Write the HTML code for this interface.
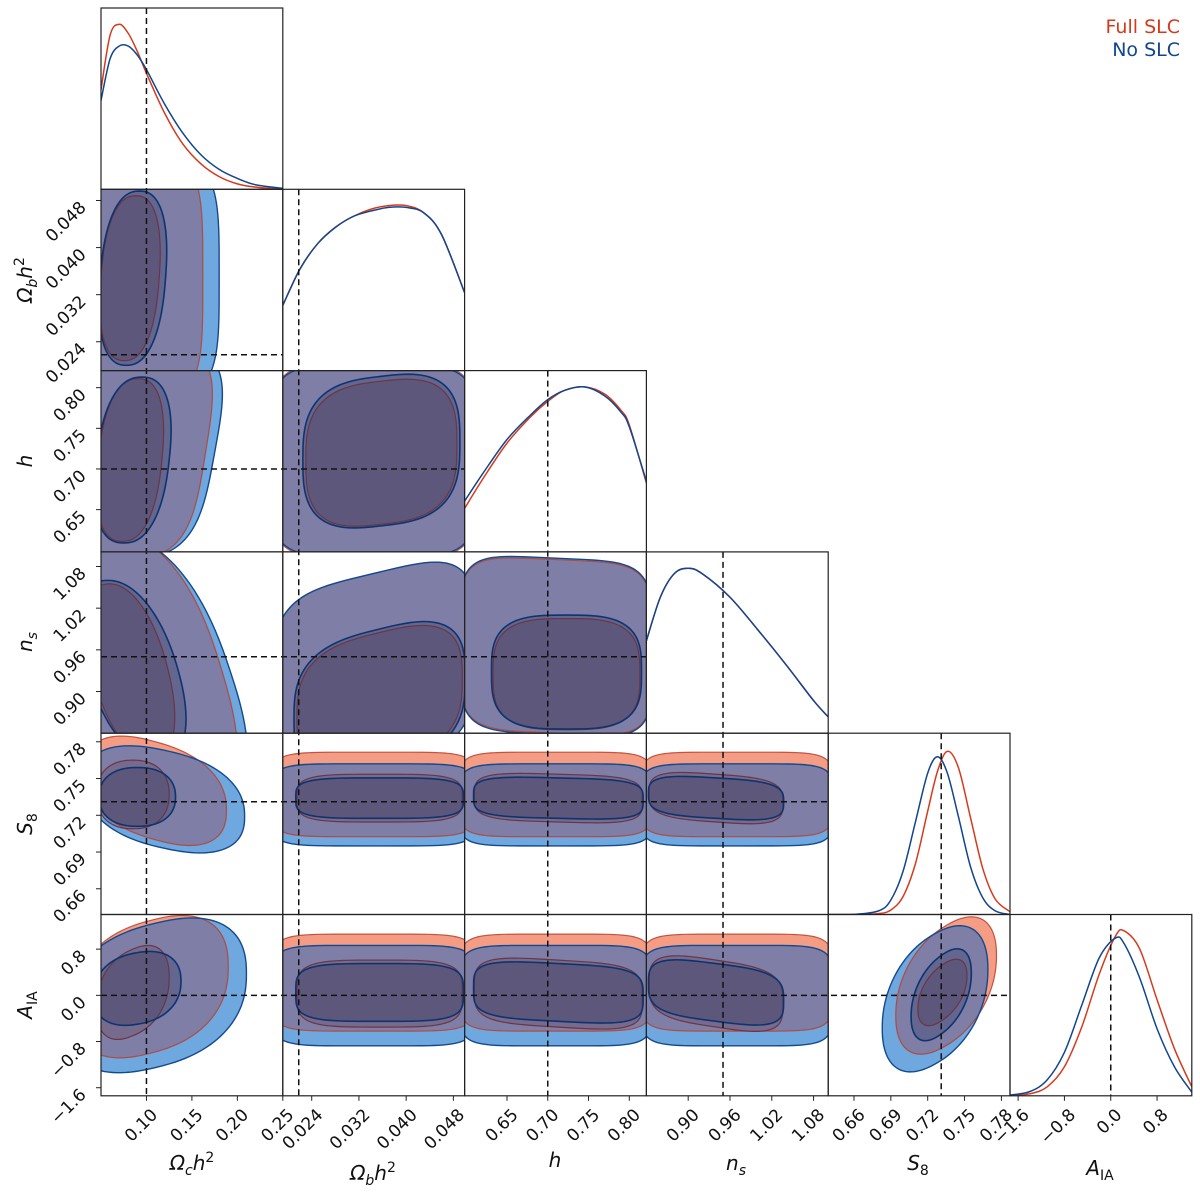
<!DOCTYPE html>
<html><head><meta charset="utf-8"><style>
html,body{margin:0;padding:0;background:#fff;}
svg{display:block;font-family:"DejaVu Sans","Liberation Sans",sans-serif;}
</style></head><body>
<svg id="chart" width="1200" height="1199" viewBox="0 0 1200 1199" xmlns="http://www.w3.org/2000/svg">
<defs id="defs"></defs>
<g id="layer"></g>
<text x="1180" y="33" text-anchor="end" font-size="19" fill="#d63a1c">Full SLC</text>
<text x="1180" y="56" text-anchor="end" font-size="19" fill="#12458f">No SLC</text>
</svg>
<script>
// ---- data ----
const paramLo = [0.05, 0.0191, 0.598, 0.84, 0.639, -1.74];
const paramHi = [0.25, 0.0499, 0.821, 1.101, 0.787, 1.40];
const truthVals = [0.10, 0.0218, 0.70, 0.95, 0.731, 0.0];
const tickVals = [
  [0.10,0.15,0.20,0.25],
  [0.024,0.032,0.040,0.048],
  [0.65,0.70,0.75,0.80],
  [0.90,0.96,1.02,1.08],
  [0.66,0.69,0.72,0.75,0.78],
  [-1.6,-0.8,0.0,0.8]
];
const tickLabels = [
  ["0.10","0.15","0.20","0.25"],
  ["0.024","0.032","0.040","0.048"],
  ["0.65","0.70","0.75","0.80"],
  ["0.90","0.96","1.02","1.08"],
  ["0.66","0.69","0.72","0.75","0.78"],
  ["\u22121.6","\u22120.8","0.0","0.8"]
];
// 1D marginals (grid + normalized densities)
const margGrid = [
  [0.05,0.06,0.07,0.08,0.09,0.10,0.12,0.14,0.16,0.18,0.20,0.22,0.25],
  [0.0191,0.022,0.025,0.028,0.031,0.034,0.037,0.040,0.043,0.046,0.0499],
  [0.598,0.62,0.65,0.68,0.70,0.72,0.745,0.77,0.79,0.80,0.821],
  [0.84,0.86,0.88,0.90,0.92,0.96,1.00,1.04,1.08,1.101],
  [0.639,0.66,0.68,0.69,0.70,0.71,0.72,0.728,0.736,0.745,0.755,0.765,0.775,0.787],
  [-1.74,-1.4,-1.1,-0.8,-0.5,-0.2,0.08,0.23,0.5,0.8,1.1,1.40]
];
const margRed = [
  [0.55,0.85,0.91,0.86,0.76,0.64,0.42,0.25,0.14,0.07,0.03,0.012,0.0],
  [0.36,0.56,0.70,0.79,0.85,0.89,0.91,0.91,0.87,0.75,0.43],
  [0.24,0.40,0.60,0.75,0.83,0.89,0.91,0.87,0.78,0.70,0.38],
  [0.51,0.75,0.88,0.91,0.88,0.75,0.57,0.38,0.18,0.09],
  [0.0,0.0,0.005,0.025,0.10,0.28,0.57,0.79,0.90,0.81,0.53,0.25,0.085,0.015],
  [0.0015,0.011,0.049,0.16,0.38,0.67,0.88,0.91,0.81,0.53,0.26,0.05]
];
const margBlue = [
  [0.49,0.72,0.79,0.79,0.74,0.66,0.47,0.31,0.19,0.11,0.06,0.025,0.005],
  [0.36,0.56,0.70,0.79,0.85,0.88,0.90,0.90,0.87,0.75,0.43],
  [0.28,0.43,0.62,0.76,0.84,0.89,0.91,0.86,0.77,0.69,0.39],
  [0.51,0.75,0.88,0.91,0.88,0.75,0.57,0.38,0.18,0.09],
  [0.0,0.0005,0.02,0.08,0.24,0.51,0.78,0.87,0.78,0.54,0.26,0.09,0.02,0.0],
  [0.004,0.023,0.087,0.24,0.50,0.76,0.87,0.84,0.65,0.37,0.16,0.02]
];
// 2D contours: [row, col, cx, cy, ax, ay, shearX, shearY, exponent]
const blue95 = [
  [1,0, 0.09,0.035,0.09,0.021,0,0,4],
  [2,0, 0.09,0.72,0.085,0.13,0.25,0,3.5],
  [3,0, 0.10,0.93,0.092,0.20,-0.55,0,2.5],
  [4,0, 0.12,0.733,0.088,0.04,0,-0.35,2.4],
  [5,0, 0.11,0.0,0.10,1.25,0,0.3,2.4],
  [2,1, 0.0345,0.71,0.0175,0.118,0,0,5],
  [3,1, 0.0345,0.93,0.0172,0.14,0,0.25,4],
  [4,1, 0.0345,0.7285,0.0172,0.0335,0,0,6],
  [5,1, 0.0345,-0.005,0.0172,0.87,0,0,6],
  [3,2, 0.71,0.965,0.118,0.127,0,-0.05,5],
  [4,2, 0.71,0.7285,0.1175,0.0335,0,0,6],
  [5,2, 0.71,-0.005,0.1175,0.87,0,0,6],
  [4,3, 0.97,0.7285,0.137,0.0335,0,0,6],
  [5,3, 0.97,-0.005,0.137,0.87,0,0,6],
  [5,4, 0.726,-0.06,0.043,1.13,0,0.45,2.2]
];
const red95 = [
  [1,0, 0.09,0.035,0.072,0.021,0,0,4],
  [2,0, 0.09,0.72,0.075,0.13,0.25,0,3.5],
  [3,0, 0.10,0.93,0.083,0.20,-0.55,0,2.5],
  [4,0, 0.11,0.74,0.078,0.04,0,-0.4,2.4],
  [5,0, 0.105,0.15,0.085,1.15,0,0.3,2.4],
  [2,1, 0.0345,0.71,0.0175,0.12,0,0,5],
  [3,1, 0.0345,0.93,0.0172,0.14,0,0.25,4],
  [4,1, 0.0345,0.737,0.0172,0.0345,0,0,6],
  [5,1, 0.0345,0.22,0.0172,0.84,0,0,6],
  [3,2, 0.71,0.965,0.118,0.125,0,-0.05,5],
  [4,2, 0.71,0.737,0.1175,0.0345,0,0,6],
  [5,2, 0.71,0.22,0.1175,0.84,0,0,6],
  [4,3, 0.97,0.737,0.137,0.0345,0,0,6],
  [5,3, 0.97,0.22,0.137,0.84,0,0,6],
  [5,4, 0.735,0.17,0.041,1.04,0,0.5,2.2]
];
const blue68 = [
  [1,0, 0.085,0.0348,0.036,0.0148,0.2,0,2.4],
  [2,0, 0.085,0.711,0.04,0.102,0.25,0,2.4],
  [3,0, 0.085,0.93,0.05,0.13,-0.55,0,2.2],
  [4,0, 0.09,0.735,0.042,0.024,0,0,2.3],
  [5,0, 0.09,0.12,0.048,0.62,0,0.2,2.3],
  [2,1, 0.0358,0.722,0.0133,0.092,0,0.12,3],
  [3,1, 0.0355,0.89,0.0145,0.10,0,0.3,3],
  [4,1, 0.0355,0.734,0.0142,0.0165,0,0,4],
  [5,1, 0.0355,0.05,0.0142,0.5,0,0,4],
  [3,2, 0.723,0.928,0.092,0.082,0,0,3.2],
  [4,2, 0.713,0.734,0.104,0.0165,0,-0.1,4],
  [5,2, 0.713,0.05,0.104,0.5,0,-0.15,4],
  [4,3, 0.94,0.734,0.097,0.0165,0,-0.2,3.5],
  [5,3, 0.94,0.05,0.097,0.5,0,-0.3,3.5],
  [5,4, 0.731,0.01,0.0245,0.68,0,0.55,2.2]
];
const red68 = [
  [1,0, 0.082,0.0348,0.032,0.014,0.2,0,2.4],
  [2,0, 0.082,0.711,0.035,0.10,0.25,0,2.4],
  [3,0, 0.082,0.93,0.042,0.125,-0.55,0,2.2],
  [4,0, 0.085,0.737,0.04,0.028,0,0,2.3],
  [5,0, 0.085,0.05,0.04,0.75,0,0.35,2.3],
  [2,1, 0.0358,0.72,0.0128,0.088,0,0.12,3],
  [3,1, 0.0355,0.89,0.014,0.095,0,0.3,3],
  [4,1, 0.0355,0.734,0.014,0.0195,0,0,4],
  [5,1, 0.0355,0.03,0.014,0.58,0,0,4],
  [3,2, 0.723,0.925,0.09,0.08,0,0,3.2],
  [4,2, 0.713,0.734,0.103,0.0195,0,-0.1,4],
  [5,2, 0.713,0.03,0.103,0.58,0,-0.15,4],
  [4,3, 0.94,0.734,0.096,0.0195,0,-0.2,3.5],
  [5,3, 0.94,0.03,0.096,0.58,0,-0.3,3.5],
  [5,4, 0.732,0.05,0.02,0.48,0,0.6,2.2]
];

// ---- layout ----
const NS = "http://www.w3.org/2000/svg";
const L = 101, T = 8, PW = 181.8, PH = 181.3;
const layer = document.getElementById('layer');
const defs = document.getElementById('defs');
function xOf(j, v){ return L + j*PW + (v - paramLo[j])/(paramHi[j]-paramLo[j])*PW; }
function yOf(i, v){ return T + i*PH + (1 - (v - paramLo[i])/(paramHi[i]-paramLo[i]))*PH; }
function dOf(i, d){ return T + i*PH + (1 - d)*PH; }
function mk(tag, attrs, parent){
  const e = document.createElementNS(NS, tag);
  for (const k in attrs) e.setAttribute(k, attrs[k]);
  (parent || layer).appendChild(e);
  return e;
}
function shapePath(p){
  const [r, c, cx, cy, ax, ay, sx, sy, n] = p;
  let d = '';
  const N = 120;
  for (let k = 0; k < N; k++){
    const t = k/N*2*Math.PI;
    const co = Math.cos(t), si = Math.sin(t);
    const u = Math.sign(co)*Math.pow(Math.abs(co), 2/n);
    const v = Math.sign(si)*Math.pow(Math.abs(si), 2/n);
    const x = cx + ax*(u + sx*v), y = cy + ay*(v + sy*u);
    d += (k ? 'L' : 'M') + xOf(c, x).toFixed(2) + ',' + yOf(r, y).toFixed(2);
  }
  return d + 'Z';
}
function smoothPath(pts){
  let d = 'M' + pts[0][0].toFixed(2) + ',' + pts[0][1].toFixed(2);
  for (let k = 0; k < pts.length-1; k++){
    const p0 = pts[Math.max(0,k-1)], p1 = pts[k], p2 = pts[k+1], p3 = pts[Math.min(pts.length-1,k+2)];
    const c1x = p1[0] + (p2[0]-p0[0])/6, c1y = p1[1] + (p2[1]-p0[1])/6;
    const c2x = p2[0] - (p3[0]-p1[0])/6, c2y = p2[1] - (p3[1]-p1[1])/6;
    d += 'C' + c1x.toFixed(2)+','+c1y.toFixed(2)+' '+c2x.toFixed(2)+','+c2y.toFixed(2)+' '+p2[0].toFixed(2)+','+p2[1].toFixed(2);
  }
  return d;
}
function findC(arr, r, c){ return arr.find(p => p[0]===r && p[1]===c); }

// ---- 2D panels ----
for (let i = 1; i < 6; i++){
  for (let j = 0; j < i; j++){
    const px = L + j*PW, py = T + i*PH;
    const cp = mk('clipPath', {id:'clip'+i+j}, defs);
    mk('rect', {x:px, y:py, width:PW, height:PH}, cp);
    const bp = mk('clipPath', {id:'bclip'+i+j}, defs);
    const b95 = shapePath(findC(blue95,i,j)), r95 = shapePath(findC(red95,i,j));
    const b68 = shapePath(findC(blue68,i,j)), r68 = shapePath(findC(red68,i,j));
    mk('path', {d:b95}, bp);
    const g = mk('g', {'clip-path':'url(#clip'+i+j+')'});
    
    
    let e;
    e = mk('path', {d:b95, fill:'#6fa7df'}, g);
    
    
    e = mk('path', {d:r95, fill:'#f49c84'}, g);
    
    
    const gi = mk('g', {'clip-path':'url(#bclip'+i+j+')'}, g);
    mk('path', {d:r95, fill:'#7e7ea6'}, gi);
    e = mk('path', {d:r68, fill:'rgba(90,40,50,0.22)'}, g);
    
    
    e = mk('path', {d:b68, fill:'rgba(20,30,70,0.25)'}, g);
    
    
    mk('path', {d:r95, fill:'none', stroke:'#b8402c', 'stroke-width':1.2, 'stroke-opacity':0.85}, g);
    mk('path', {d:b95, fill:'none', stroke:'#124a90', 'stroke-width':1.4}, g);
    mk('path', {d:r68, fill:'none', stroke:'#6a3545', 'stroke-width':1.2}, g);
    mk('path', {d:b68, fill:'none', stroke:'#0d3470', 'stroke-width':1.6}, g);
  }
}
// ---- 1D panels ----
for (let i = 0; i < 6; i++){
  const px = L + i*PW, py = T + i*PH;
  const cp = mk('clipPath', {id:'mclip'+i}, defs);
  mk('rect', {x:px, y:py, width:PW, height:PH}, cp);
  const g = mk('g', {'clip-path':'url(#mclip'+i+')'});
  
  
  const rp = margGrid[i].map((v,k) => [xOf(i,v), dOf(i, margRed[i][k])]);
  const bpnts = margGrid[i].map((v,k) => [xOf(i,v), dOf(i, margBlue[i][k])]);
  let e = mk('path', {d:smoothPath(rp), fill:'none', stroke:'#d63a1c', 'stroke-width':1.5}, g);
  
  
  e = mk('path', {d:smoothPath(bpnts), fill:'none', stroke:'#12458f', 'stroke-width':1.5}, g);
  
  
}
// ---- truth lines ----
for (let j = 0; j < 6; j++){
  const x = xOf(j, truthVals[j]);
  const e = mk('line', {x1:x, x2:x, y1:T + j*PH, y2:T + 6*PH, stroke:'#111', 'stroke-width':1.5, 'stroke-dasharray':'6,4'});
  
  
}
for (let i = 1; i < 6; i++){
  const y = yOf(i, truthVals[i]);
  const e = mk('line', {x1:L, x2:L + i*PW, y1:y, y2:y, stroke:'#111', 'stroke-width':1.5, 'stroke-dasharray':'6,4'});
  
  
}
// ---- frames ----
for (let i = 0; i < 6; i++){
  for (let j = 0; j <= i; j++){
    const e = mk('rect', {x:L + j*PW, y:T + i*PH, width:PW, height:PH, fill:'none', stroke:'#222', 'stroke-width':1.2});
    
    
  }
}
// ---- ticks ----
const yBot = T + 6*PH;
for (let j = 0; j < 6; j++){
  tickVals[j].forEach((v,k) => {
    const x = xOf(j, v);
    mk('line', {x1:x, x2:x, y1:yBot, y2:yBot+5, stroke:'#222', 'stroke-width':1});
    const ax = x + 12, ay = yBot + 20;
    const t = mk('text', {x:ax, y:ay, 'text-anchor':'end', 'font-size':17, fill:'#111', transform:'rotate(-45 '+ax+' '+ay+')'});
    t.textContent = tickLabels[j][k];
    
    
  });
}
for (let i = 1; i < 6; i++){
  tickVals[i].forEach((v,k) => {
    const y = yOf(i, v);
    mk('line', {x1:L-5, x2:L, y1:y, y2:y, stroke:'#222', 'stroke-width':1});
    const ax = L - 14, ay = y + 8;
    const t = mk('text', {x:ax, y:ay, 'text-anchor':'end', 'font-size':17, fill:'#111', transform:'rotate(-45 '+ax+' '+ay+')'});
    t.textContent = tickLabels[i][k];
    
    
  });
}
</script>
<script>
(function(){
  const svg = document.getElementById('chart');
  const NS = "http://www.w3.org/2000/svg";
  const labels = [
    ['\u03A9','c','h','2'],['\u03A9','b','h','2'],['h','',''],['n','s',''],['S','8',''],['A','IA','']
  ];
  const bx = [192, 373, 555, 736, 918, 1100];
  const by = [1170, 1180, 1167, 1170, 1170, 1175];
  const ly = [0, 280, 461, 642, 824, 1005];
  function build(lab, x, y, rot, name){
    const t = document.createElementNS(NS, 'text');
    t.setAttribute('x', x); t.setAttribute('y', y);
    t.setAttribute('text-anchor', 'middle');
    t.setAttribute('font-size', 20);
    t.setAttribute('fill', '#111');
    if (rot) t.setAttribute('transform', 'rotate(-90 '+x+' '+y+')');
    
    
    const a = document.createElementNS(NS, 'tspan');
    a.setAttribute('font-style', 'italic'); a.textContent = lab[0]; t.appendChild(a);
    if (lab[1]){
      const s = document.createElementNS(NS, 'tspan');
      s.setAttribute('font-size', 14); s.setAttribute('dy', 5);
      if (lab[1] !== '8' && lab[1] !== 'IA') s.setAttribute('font-style', 'italic');
      s.textContent = lab[1]; t.appendChild(s);
    }
    if (lab[2]){
      const h = document.createElementNS(NS, 'tspan');
      h.setAttribute('font-style', 'italic'); h.setAttribute('dy', -5); h.textContent = lab[2]; t.appendChild(h);
      const p = document.createElementNS(NS, 'tspan');
      p.setAttribute('font-size', 14); p.setAttribute('dy', -8); p.textContent = lab[3]; t.appendChild(p);
    }
    svg.appendChild(t);
  }
  for (let j = 0; j < 6; j++) build(labels[j], bx[j], by[j], false, 'x-axis-title');
  for (let i = 1; i < 6; i++) build(labels[i], 32, ly[i], true, 'y-axis-title');
})();
</script>
</body></html>
